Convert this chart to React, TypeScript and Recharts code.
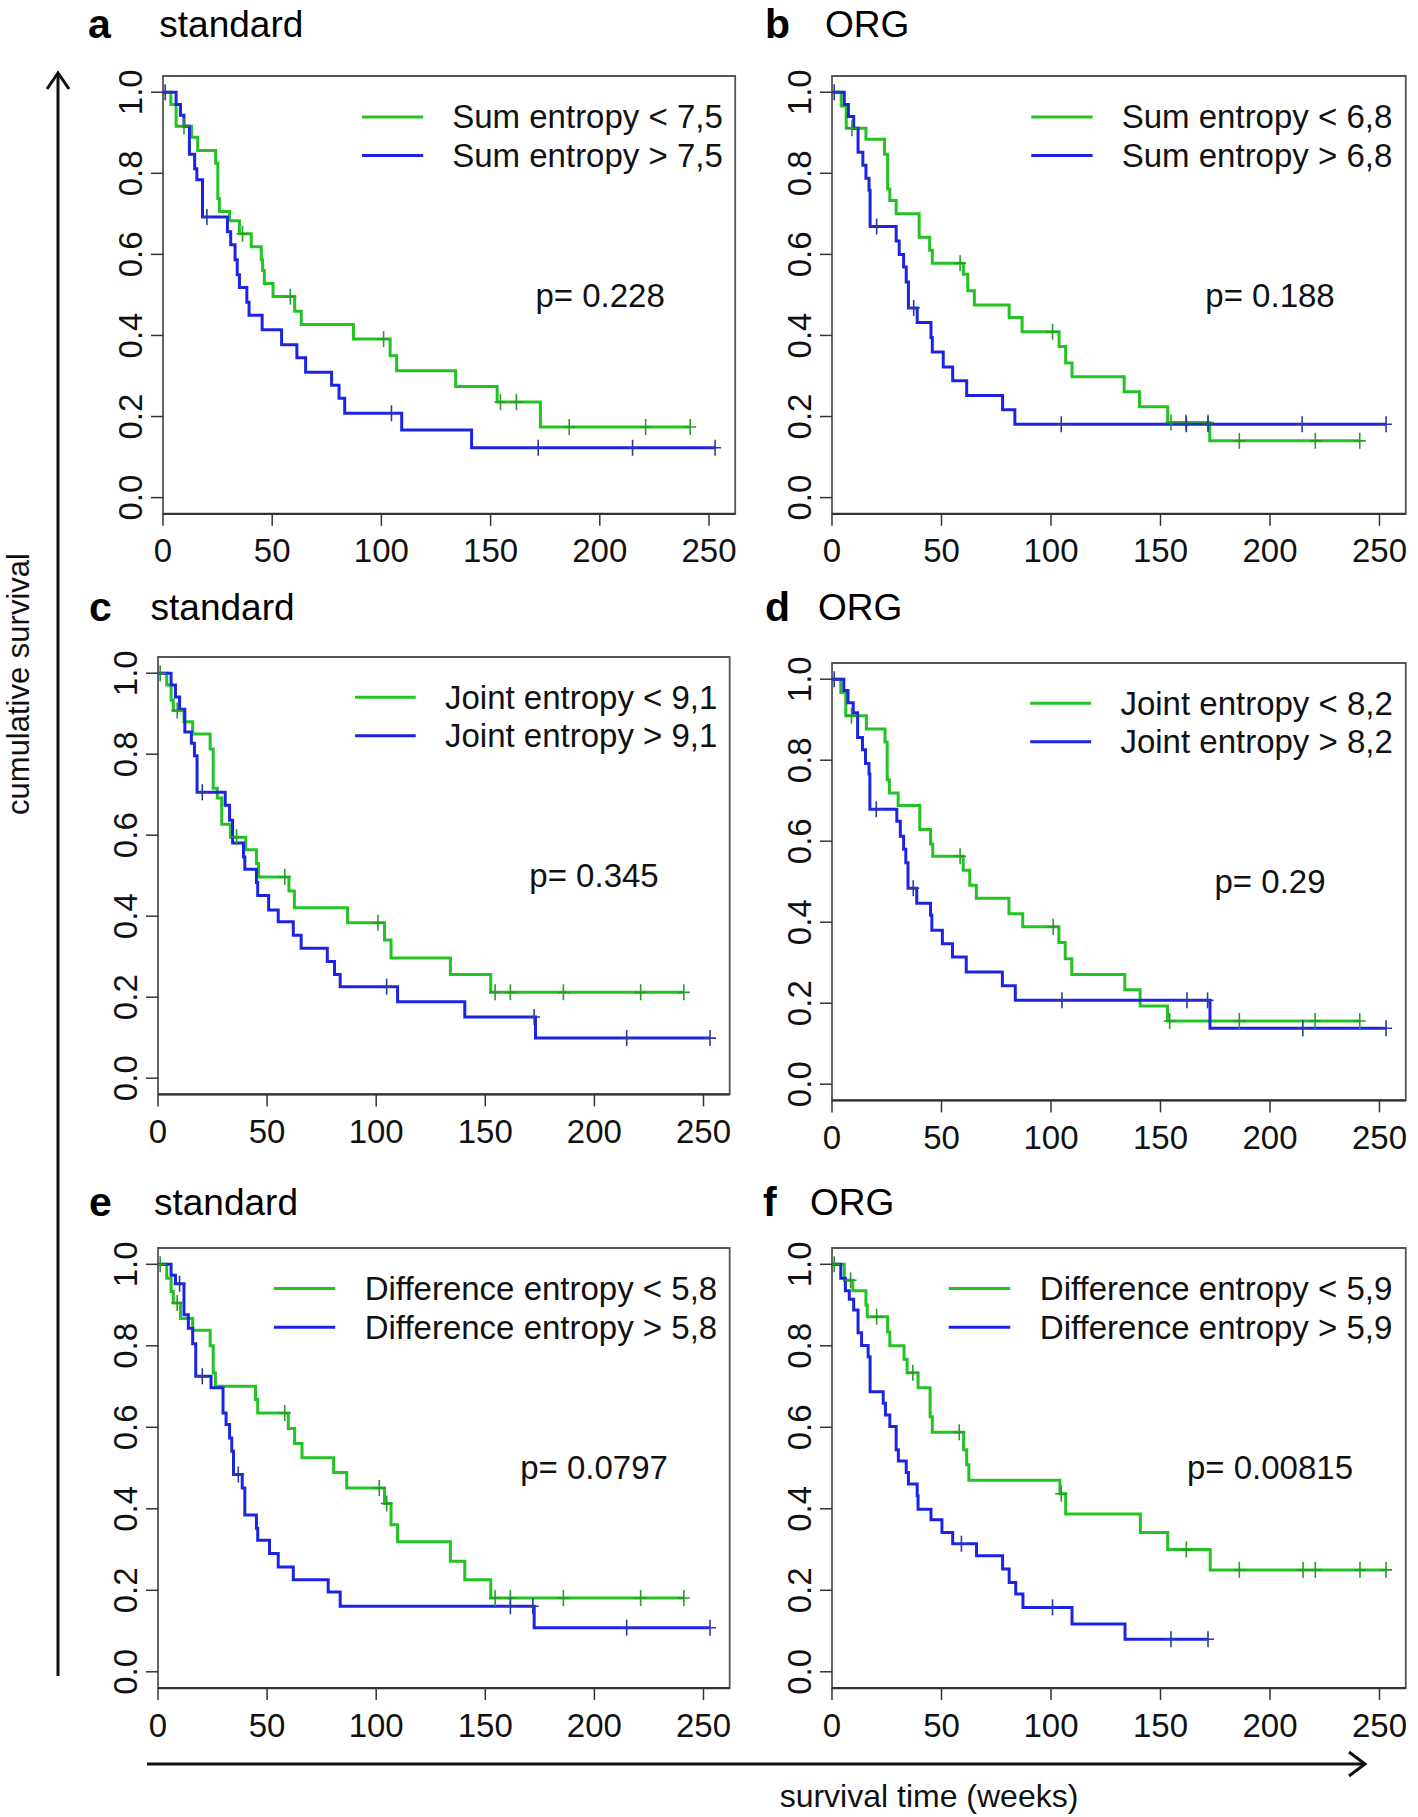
import React from 'react';
import { ComposedChart, Line, Scatter, XAxis, YAxis, ReferenceArea } from 'recharts';

type Step = [number, number];

// axis ticks
const X_TICKS = [0, 50, 100, 150, 200, 250];
const Y_TICKS = [0, 0.2, 0.4, 0.6, 0.8, 1.0];

// panel texts
const panelLetters = ['a', 'b', 'c', 'd', 'e', 'f'];
const panelTitles = ['standard', 'ORG', 'standard', 'ORG', 'standard', 'ORG'];
const lowLabels = [
  'Sum entropy < 7,5',
  'Sum entropy < 6,8',
  'Joint entropy < 9,1',
  'Joint entropy < 8,2',
  'Difference entropy < 5,8',
  'Difference entropy < 5,9',
];
const highLabels = [
  'Sum entropy > 7,5',
  'Sum entropy > 6,8',
  'Joint entropy > 9,1',
  'Joint entropy > 8,2',
  'Difference entropy > 5,8',
  'Difference entropy > 5,9',
];
const pValues = ['p= 0.228', 'p= 0.188', 'p= 0.345', 'p= 0.29', 'p= 0.0797', 'p= 0.00815'];

// survival steps: [week, survival after the step]; censor weeks
const aLow: Step[] = [[0, 1], [3.6, 0.97], [6, 0.916], [13.1, 0.889], [15.9, 0.856], [24.1, 0.825], [25.1, 0.738], [25.8, 0.706], [30.5, 0.683], [35, 0.651], [40.4, 0.619], [45, 0.587], [45.6, 0.56], [46.4, 0.528], [50.4, 0.496], [60.3, 0.46], [63.3, 0.427], [87.2, 0.391], [104, 0.35], [107, 0.313], [134, 0.274], [153, 0.236], [172.8, 0.174]];
const aLowCens = [9.6, 36.4, 58.3, 101, 154.5, 161.8, 186, 221, 241.4];
const aHigh: Step[] = [[0, 1], [6, 0.97], [8, 0.943], [9.6, 0.916], [12.1, 0.847], [14.5, 0.811], [15.5, 0.784], [18.1, 0.692], [29.5, 0.656], [31, 0.624], [33, 0.587], [34, 0.55], [35, 0.518], [38.4, 0.482], [39.4, 0.45], [45.4, 0.414], [54.3, 0.377], [61.3, 0.345], [65.3, 0.309], [77.2, 0.277], [80.6, 0.245], [83.2, 0.208], [109.3, 0.167], [141.3, 0.123]];
const aHighCens = [1, 20.1, 104.6, 171.8, 215, 252.8];

const bLow: Step[] = [[0, 1], [4.2, 0.966], [6.5, 0.911], [15.5, 0.884], [24, 0.847], [25.4, 0.761], [26.4, 0.733], [29.3, 0.7], [39.8, 0.642], [44.6, 0.61], [45.8, 0.578], [60, 0.551], [62, 0.51], [65, 0.475], [80.9, 0.444], [86.8, 0.409], [103.7, 0.373], [106.7, 0.332], [109.6, 0.298], [133.4, 0.261], [140.4, 0.224], [153.3, 0.185], [172.5, 0.14]];
const bLowCens = [9.1, 58.5, 100.7, 154.8, 161.6, 171.7, 186, 220.7, 241];
const bHigh: Step[] = [[0, 1], [5.6, 0.97], [7.5, 0.94], [9.9, 0.911], [11.9, 0.852], [14.1, 0.82], [15.5, 0.788], [16.9, 0.758], [17.4, 0.669], [29.3, 0.633], [30.7, 0.6], [32.7, 0.569], [33.9, 0.532], [34.9, 0.468], [38.9, 0.432], [45.2, 0.395], [45.8, 0.359], [50.8, 0.322], [55.1, 0.288], [61.5, 0.252], [77.9, 0.217], [83.5, 0.181]];
const bHighCens = [1, 20.4, 37.3, 104.7, 161.8, 171.7, 214.7, 253];

const cLow: Step[] = [[0, 1], [4, 0.971], [6, 0.934], [7, 0.908], [11.9, 0.88], [15.9, 0.85], [23.9, 0.813], [25.3, 0.716], [27.2, 0.692], [29.2, 0.627], [33.2, 0.595], [40.2, 0.564], [45.1, 0.53], [46.1, 0.497], [60, 0.462], [62.5, 0.421], [86.9, 0.384], [103.8, 0.341], [106.8, 0.297], [134, 0.256], [152.5, 0.212]];
const cLowCens = [1, 8.8, 36, 58.1, 100.8, 154.5, 161.5, 185.8, 221.2, 241];
const cHigh: Step[] = [[0, 1], [6, 0.971], [8, 0.941], [9.9, 0.911], [12.3, 0.855], [15.3, 0.827], [16.7, 0.796], [17.9, 0.706], [30.8, 0.674], [32.8, 0.637], [34.2, 0.581], [39.2, 0.546], [39.8, 0.516], [45.1, 0.483], [45.7, 0.451], [50.7, 0.415], [55.1, 0.386], [62, 0.353], [65.6, 0.321], [77.6, 0.288], [80.9, 0.256], [83.5, 0.226], [109.8, 0.189], [140.6, 0.151], [173, 0.099]];
const cHighCens = [20.3, 104.8, 172.4, 214.8, 253];

const dLow: Step[] = [[0, 1], [4, 0.967], [6.3, 0.91], [15.7, 0.877], [24.2, 0.845], [25.2, 0.752], [26.2, 0.719], [30.2, 0.688], [40.1, 0.629], [45, 0.593], [46, 0.563], [59.9, 0.528], [62.9, 0.491], [65.9, 0.459], [80.8, 0.421], [87.1, 0.389], [103.6, 0.35], [106.5, 0.31], [109.5, 0.271], [133.7, 0.233], [140.7, 0.193], [153.2, 0.156]];
const dLowCens = [8.9, 58.5, 101, 154.2, 186, 220.6, 241];
const dHigh: Step[] = [[0, 1], [5.4, 0.972], [7.3, 0.942], [9.7, 0.917], [11.7, 0.856], [13.9, 0.826], [15.3, 0.792], [16.9, 0.766], [17.3, 0.679], [29.6, 0.649], [31.2, 0.612], [32.7, 0.58], [33.7, 0.547], [34.7, 0.484], [38.7, 0.447], [45, 0.417], [45.6, 0.38], [50.4, 0.347], [55, 0.314], [61.3, 0.277], [77.8, 0.243], [83.7, 0.207], [172.6, 0.138]];
const dHighCens = [1, 20.2, 37.1, 105, 162.1, 171.5, 215, 253];

const eLow: Step[] = [[0, 1], [4, 0.966], [6, 0.933], [7, 0.905], [10.3, 0.867], [15.9, 0.838], [23.9, 0.8], [25.3, 0.734], [26.3, 0.701], [44.7, 0.668], [45.7, 0.635], [59.7, 0.597], [62.6, 0.56], [66, 0.525], [80.5, 0.489], [86.5, 0.451], [103.8, 0.413], [106.8, 0.361], [109.8, 0.319], [134, 0.271], [140.6, 0.226], [152.5, 0.181]];
const eLowCens = [1, 8.8, 58.1, 101.4, 104.8, 154.5, 161.5, 185.8, 221.2, 241];
const eHigh: Step[] = [[0, 1], [6, 0.973], [8, 0.952], [11.9, 0.876], [13.9, 0.843], [15.9, 0.805], [17.3, 0.725], [24.3, 0.697], [29.8, 0.635], [31.2, 0.607], [32.8, 0.574], [33.8, 0.541], [34.6, 0.484], [38.6, 0.451], [39.8, 0.385], [45.1, 0.352], [45.7, 0.323], [51.1, 0.29], [55.1, 0.257], [62, 0.226], [78, 0.196], [83.5, 0.161], [172.4, 0.108]];
const eHighCens = [9.9, 20.3, 36.8, 161.5, 171.8, 214.8, 253];

const fLow: Step[] = [[0, 1], [5.6, 0.961], [9.5, 0.935], [15.5, 0.9], [16.1, 0.871], [25.4, 0.834], [26.4, 0.8], [32.9, 0.767], [34.3, 0.734], [39.3, 0.697], [44.8, 0.626], [45.8, 0.588], [60.1, 0.545], [61.5, 0.508], [62.5, 0.47], [104.1, 0.437], [106.7, 0.387], [140.8, 0.342], [153.3, 0.3], [172.7, 0.25]];
const fLowCens = [1, 8.5, 20.4, 36.9, 58.1, 104.7, 161.8, 186, 215.1, 220.7, 241.1, 253];
const fHigh: Step[] = [[0, 1], [4, 0.966], [6.1, 0.935], [7.9, 0.914], [9.9, 0.888], [11.9, 0.832], [13.5, 0.801], [16.5, 0.773], [17.4, 0.687], [23.4, 0.659], [24.4, 0.63], [26.4, 0.602], [29.3, 0.545], [30.3, 0.517], [33.9, 0.489], [34.9, 0.461], [38.9, 0.432], [39.3, 0.399], [45.2, 0.373], [50.2, 0.342], [55.1, 0.314], [66, 0.285], [77.9, 0.252], [80.9, 0.219], [83.9, 0.191], [87.2, 0.158], [109.6, 0.117], [133.8, 0.08]];
const fHighCens = [59.1, 100.7, 154.8, 171.7];

const lowSeries = [aLow, bLow, cLow, dLow, eLow, fLow];
const lowCensors = [aLowCens, bLowCens, cLowCens, dLowCens, eLowCens, fLowCens];
const highSeries = [aHigh, bHigh, cHigh, dHigh, eHigh, fHigh];
const highCensors = [aHighCens, bHighCens, cHighCens, dHighCens, eHighCens, fHighCens];

// styling / layout
const GREEN = '#22c322';
const BLUE = '#1c24e4';
const FONT = '"Liberation Sans", Arial, Helvetica, sans-serif';
const X_MAX = 262;
const Y_MIN = -0.04;
const Y_MAX = 1.04;
const Y_AXIS_W = 70;
const X_AXIS_H = 70;
const M_TOP = 10;
const M_RIGHT = 10;

const layout = [
  { left: 163.3, top: 76.4, kx: 2.184, ky: 405.4, letterX: 88, titleX: 159.3, baseY: 37, leg: [91, 119, 132.3] },
  { left: 832, top: 76.4, kx: 2.19, ky: 405.4, letterX: 765, titleX: 825, baseY: 37, leg: [91, 119, 132.3] },
  { left: 157.6, top: 656.8, kx: 2.182, ky: 405, letterX: 89, titleX: 150.6, baseY: 620, leg: [90.5, 118.3, 131.7] },
  { left: 832, top: 662.7, kx: 2.19, ky: 405, letterX: 765, titleX: 818, baseY: 620, leg: [90.5, 118.3, 131.7] },
  { left: 157.6, top: 1247.7, kx: 2.182, ky: 407.5, letterX: 89, titleX: 154, baseY: 1215, leg: [53.3, 81.4, 94.9] },
  { left: 832, top: 1247.7, kx: 2.19, ky: 407.5, letterX: 763, titleX: 810, baseY: 1215, leg: [53.3, 81.4, 94.9] },
];

function lineData(steps: Step[], cens: number[]) {
  const pts = steps.map(([t, s]) => ({ t, s }));
  const last = steps[steps.length - 1];
  const end = Math.max(...cens, last[0]);
  if (end > last[0]) pts.push({ t: end, s: last[1] });
  return pts;
}

function survivalAt(steps: Step[], t: number) {
  let s = 1;
  for (const [ts, v] of steps) {
    if (ts <= t) s = v;
  }
  return s;
}

function censorData(steps: Step[], cens: number[]) {
  return cens.map((t) => ({ t, s: survivalAt(steps, t) }));
}

const censorShape = (color: string) => (props: any) => {
  const { cx, cy } = props;
  if (cx == null || cy == null) return <g />;
  return (
    <g stroke={color} strokeWidth={1.6}>
      <line x1={cx - 6} x2={cx + 6} y1={cy} y2={cy} />
      <line x1={cx} x2={cx} y1={cy - 8} y2={cy + 8} />
    </g>
  );
};

const YTick = (props: any) => {
  const { x, y, payload } = props;
  const cx = x - 12;
  return (
    <text
      x={cx}
      y={y}
      transform={`rotate(-90 ${cx} ${y})`}
      textAnchor="middle"
      dominantBaseline="central"
      fontSize={33}
      fontFamily={FONT}
      fill="#111"
    >
      {Number(payload.value).toFixed(1)}
    </text>
  );
};

function Panel({ i }: { i: number }) {
  const L = layout[i];
  const plotW = X_MAX * L.kx;
  const plotH = (Y_MAX - Y_MIN) * L.ky;
  const width = plotW + Y_AXIS_W + M_RIGHT;
  const height = plotH + M_TOP + X_AXIS_H;
  return (
    <div style={{ position: 'absolute', left: L.left - Y_AXIS_W, top: L.top - M_TOP }}>
      <ComposedChart width={width} height={height} margin={{ top: M_TOP, right: M_RIGHT, bottom: 0, left: 0 }}>
        <XAxis
          dataKey="t"
          type="number"
          domain={[0, X_MAX]}
          ticks={X_TICKS}
          interval={0}
          allowDataOverflow
          height={X_AXIS_H}
          tickSize={12}
          tickMargin={13}
          axisLine={{ stroke: '#333', strokeWidth: 2.2 }}
          tickLine={{ stroke: '#333', strokeWidth: 1.5 }}
          tick={{ fontSize: 33, fontFamily: FONT, fill: '#111' }}
        />
        <YAxis
          dataKey="s"
          type="number"
          domain={[Y_MIN, Y_MAX]}
          ticks={Y_TICKS}
          interval={0}
          allowDataOverflow
          width={Y_AXIS_W}
          tickSize={12}
          tickMargin={8}
          axisLine={false}
          tickLine={{ stroke: '#333', strokeWidth: 1.5 }}
          tick={<YTick />}
        />
        <ReferenceArea
          x1={0}
          x2={X_MAX}
          y1={Y_MIN}
          y2={Y_MAX}
          fill="none"
          fillOpacity={0}
          stroke="#555"
          strokeWidth={1.8}
          ifOverflow="visible"
        />
        <Line
          data={lineData(lowSeries[i], lowCensors[i])}
          dataKey="s"
          type="stepAfter"
          stroke={GREEN}
          strokeWidth={3}
          dot={false}
          activeDot={false}
          isAnimationActive={false}
        />
        <Line
          data={lineData(highSeries[i], highCensors[i])}
          dataKey="s"
          type="stepAfter"
          stroke={BLUE}
          strokeWidth={3}
          dot={false}
          activeDot={false}
          isAnimationActive={false}
        />
        <Scatter
          data={censorData(lowSeries[i], lowCensors[i])}
          dataKey="s"
          shape={censorShape('#2a9a2a')}
          isAnimationActive={false}
        />
        <Scatter
          data={censorData(highSeries[i], highCensors[i])}
          dataKey="s"
          shape={censorShape('#2a3aa8')}
          isAnimationActive={false}
        />
      </ComposedChart>
    </div>
  );
}

function Annotations() {
  return (
    <svg
      width={1418}
      height={1817}
      style={{ position: 'absolute', left: 0, top: 0, pointerEvents: 'none' }}
      fontFamily={FONT}
    >
      {/* vertical arrow + label */}
      <line x1={58} y1={1676} x2={58} y2={73} stroke="#111" strokeWidth={3} />
      <polyline points="47,89 58,73 69,89" fill="none" stroke="#111" strokeWidth={3} />
      <text
        x={18}
        y={684}
        transform="rotate(-90 18 684)"
        textAnchor="middle"
        dominantBaseline="central"
        fontSize={31}
        fill="#111"
      >
        cumulative survival
      </text>
      {/* horizontal arrow + label */}
      <line x1={147} y1={1764} x2={1364} y2={1764} stroke="#111" strokeWidth={3} />
      <polyline points="1349,1752 1365,1764 1349,1776" fill="none" stroke="#111" strokeWidth={3} />
      <text x={929} y={1807} textAnchor="middle" fontSize={32} fill="#111">
        survival time (weeks)
      </text>

      {layout.map((L, i) => {
        const px = (w: number) => L.left + w * L.kx;
        const py = (v: number) => L.top + (Y_MAX - v) * L.ky;
        const [l0, l1, tx] = L.leg;
        return (
          <g key={i}>
            <text x={L.letterX} y={L.baseY + 1} fontSize={41} fontWeight="bold" fill="#000">
              {panelLetters[i]}
            </text>
            <text x={L.titleX} y={L.baseY} fontSize={37} fill="#000">
              {panelTitles[i]}
            </text>
            <line x1={px(l0)} x2={px(l1)} y1={py(0.94)} y2={py(0.94)} stroke={GREEN} strokeWidth={3} />
            <line x1={px(l0)} x2={px(l1)} y1={py(0.845)} y2={py(0.845)} stroke={BLUE} strokeWidth={3} />
            <text x={px(tx)} y={py(0.94)} dominantBaseline="central" fontSize={33} fill="#111">
              {lowLabels[i]}
            </text>
            <text x={px(tx)} y={py(0.845)} dominantBaseline="central" fontSize={33} fill="#111">
              {highLabels[i]}
            </text>
            <text x={px(200)} y={py(0.5)} textAnchor="middle" dominantBaseline="central" fontSize={33} fill="#111">
              {pValues[i]}
            </text>
          </g>
        );
      })}
    </svg>
  );
}

export default function App() {
  return (
    <div style={{ position: 'absolute', left: 0, top: 0, width: 1418, height: 1817, background: '#fff' }}>
      {layout.map((_, i) => (
        <Panel key={i} i={i} />
      ))}
      <Annotations />
    </div>
  );
}
